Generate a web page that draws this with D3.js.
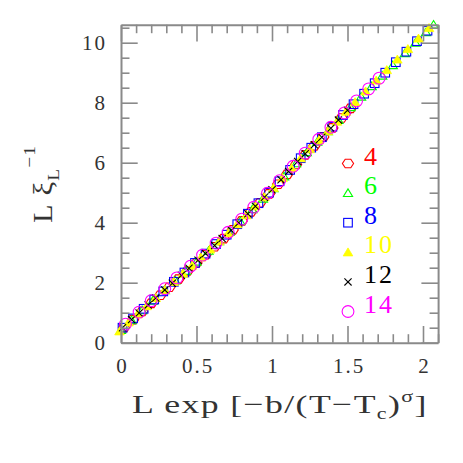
<!DOCTYPE html>
<html><head><meta charset="utf-8">
<script src="https://cdn.jsdelivr.net/npm/d3@7"></script>
<style>
body{margin:0;background:#fff;}
text{font-family:"Liberation Serif","DejaVu Serif",serif;}
</style></head>
<body><svg id="c" width="463" height="463"></svg>
<script>
// ---- data ----
const seriesNames = ["4","6","8","10","12","14"];
const x4  = [0.02,0.08,0.14,0.20,0.26,0.32,0.38,0.44,0.50,0.56,0.62,0.68,0.74,0.80,0.86,0.92,0.98,1.04,1.10,1.16,1.22,1.28,1.34,1.40,1.46,1.52];
const y4  = [0.50,0.77,1.04,1.31,1.58,1.85,2.12,2.39,2.66,2.93,3.20,3.47,3.76,4.06,4.36,4.66,4.96,5.28,5.61,5.94,6.26,6.56,6.86,7.16,7.49,7.81];
const x6  = [0.00,0.07,0.14,0.21,0.29,0.36,0.43,0.50,0.58,0.65,0.72,0.79,0.87,0.94,1.01,1.08,1.16,1.23,1.30,1.37,1.44,1.52,1.59,1.66,1.73,1.80,1.88,1.95,2.02,2.07];
const y6  = [0.42,0.75,1.08,1.40,1.75,2.07,2.39,2.70,3.06,3.38,3.70,4.05,4.45,4.80,5.15,5.54,5.98,6.35,6.70,7.05,7.42,7.85,8.20,8.55,8.90,9.25,9.65,10.00,10.35,10.60];
const x8  = [0.01,0.08,0.15,0.22,0.28,0.35,0.42,0.49,0.56,0.63,0.70,0.77,0.84,0.91,0.98,1.05,1.12,1.19,1.26,1.33,1.40,1.47,1.54,1.61,1.68,1.75,1.82,1.89,1.96,2.03];
const y8  = [0.50,0.81,1.13,1.44,1.71,2.03,2.34,2.66,2.97,3.29,3.60,3.95,4.30,4.65,5.00,5.38,5.76,6.15,6.50,6.85,7.20,7.59,7.95,8.30,8.65,9.00,9.35,9.70,10.05,10.40];
const x10 = [-0.01,0.05,0.11,0.17,0.23,0.29,0.35,0.41,0.47,0.53,0.59,0.65,0.71,0.77,0.83,0.89,0.95,1.01,1.07,1.13,1.19,1.25,1.31,1.37,1.43,1.49,1.55,1.62,1.69,1.76,1.83,1.90,1.97,2.04];
const y10 = [0.38,0.68,0.95,1.22,1.49,1.76,2.03,2.30,2.57,2.84,3.11,3.38,3.65,3.95,4.25,4.55,4.85,5.16,5.49,5.82,6.15,6.45,6.75,7.05,7.37,7.70,8.02,8.38,8.74,9.09,9.44,9.79,10.14,10.49];
const x12 = [0.01,0.07,0.12,0.18,0.23,0.29,0.34,0.40,0.45,0.51,0.56,0.62,0.67,0.73,0.78,0.84,0.89,0.95,1.00,1.06,1.11,1.17,1.22,1.28,1.33,1.39,1.44,1.50];
const y12 = [0.50,0.77,0.99,1.26,1.49,1.76,1.98,2.25,2.48,2.75,2.97,3.24,3.47,3.75,4.00,4.30,4.55,4.85,5.10,5.43,5.71,6.04,6.30,6.60,6.85,7.15,7.42,7.75];
const x14 = [0.03,0.12,0.20,0.29,0.37,0.46,0.54,0.63,0.71,0.80,0.88,0.97,1.05,1.14,1.22,1.31,1.39,1.48,1.56,1.64,1.71];
const y14 = [0.62,1.02,1.40,1.80,2.16,2.55,2.92,3.32,3.68,4.12,4.52,4.98,5.40,5.88,6.32,6.78,7.18,7.66,8.06,8.46,8.82];
const xMajorTicks = [0,0.5,1,1.5,2];
const yMajorTicks = [0,2,4,6,8,10];
const xMinorTicks = [0.1,0.2,0.3,0.4,0.6,0.7,0.8,0.9,1.1,1.2,1.3,1.4,1.6,1.7,1.8,1.9,2.1];
const yMinorTicks = [0.5,1,1.5,2.5,3,3.5,4.5,5,5.5,6.5,7,7.5,8.5,9,9.5,10.5];

const seriesX = [x4,x6,x8,x10,x12,x14];
const seriesY = [y4,y6,y8,y10,y12,y14];
const colors = ["#ff0000","#00ff00","#0000ff","#ffff00","#000000","#ff00ff"];
const shapes = ["hex","tri","sq","ftri","x","circ"];

const svg = d3.select("#c");
const L=121, R=438.1, T=24.7, B=342.7;
const xs = d3.scaleLinear().domain([0,2.1]).range([L,R]);
const ys = d3.scaleLinear().domain([0,10.6]).range([B,T]);
const axisCol = "#8a8a8a";

function marker(g, shape, col){
  if(shape==="hex"){
    const r=5.6, pts=d3.range(6).map(i=>[r*Math.cos(i*Math.PI/3), 0.88*r*Math.sin(i*Math.PI/3)]);
    g.append("path").attr("d","M"+pts.join("L")+"Z").attr("fill","none").attr("stroke",col).attr("stroke-width",1.1);
  } else if(shape==="tri"){
    g.append("path").attr("d","M-4.6,3.4L4.6,3.4L0,-4.2Z").attr("fill","none").attr("stroke",col).attr("stroke-width",1.1);
  } else if(shape==="ftri"){
    g.append("path").attr("d","M-4.8,3.6L4.8,3.6L0,-4.4Z").attr("fill",col).attr("stroke",col).attr("stroke-width",0.8);
  } else if(shape==="sq"){
    g.append("rect").attr("x",-4.3).attr("y",-4.3).attr("width",8.6).attr("height",8.6).attr("fill","none").attr("stroke",col).attr("stroke-width",1.1);
  } else if(shape==="x"){
    g.append("path").attr("d","M-3.6,-3.6L3.6,3.6M-3.6,3.6L3.6,-3.6").attr("stroke",col).attr("stroke-width",1.1);
  } else {
    g.append("circle").attr("r",5.9).attr("fill","none").attr("stroke",col).attr("stroke-width",1.1);
  }
}

// data points
seriesX.forEach((xa,si)=>{
  const g = svg.append("g");
  xa.forEach((xv,i)=>{
    const m = g.append("g").attr("transform",`translate(${xs(xv)},${ys(seriesY[si][i])})`);
    marker(m, shapes[si], colors[si]);
  });
});

// axes
function styleAxis(sel){
  sel.selectAll("path,line").attr("stroke",axisCol);
  sel.select(".domain").attr("stroke-width",2);
  sel.selectAll(".tick line").attr("stroke-width",1.6);
  sel.selectAll("text").attr("fill","#333").style("font-size","21px").style("letter-spacing","2px")
    .style("font-family","'Liberation Serif',serif");
}
const fmt = d=>String(d);
const xb = svg.append("g").attr("transform",`translate(0,${B})`).call(d3.axisBottom(xs).tickValues(xMajorTicks).tickFormat(fmt).tickSize(-16.7).tickSizeOuter(0).tickPadding(15));
styleAxis(xb);
xb.selectAll("text").attr("dx","1px");
styleAxis(svg.append("g").attr("transform",`translate(0,${T})`).call(d3.axisTop(xs).tickValues(xMajorTicks).tickFormat("").tickSize(-16.7).tickSizeOuter(0)));
styleAxis(svg.append("g").attr("transform",`translate(${L},0)`).call(d3.axisLeft(ys).tickValues(yMajorTicks).tickFormat(fmt).tickSize(-16.7).tickSizeOuter(0).tickPadding(14)));
styleAxis(svg.append("g").attr("transform",`translate(${R},0)`).call(d3.axisRight(ys).tickValues(yMajorTicks).tickFormat("").tickSize(-16.7).tickSizeOuter(0)));
[[d3.axisBottom(xs).tickValues(xMinorTicks),`translate(0,${B})`],
 [d3.axisTop(xs).tickValues(xMinorTicks),`translate(0,${T})`],
 [d3.axisLeft(ys).tickValues(yMinorTicks),`translate(${L},0)`],
 [d3.axisRight(ys).tickValues(yMinorTicks),`translate(${R},0)`]].forEach(([ax,tr])=>{
  const g = svg.append("g").attr("transform",tr).call(ax.tickFormat("").tickSize(-8.5).tickSizeOuter(0));
  g.select(".domain").remove();
  g.selectAll("line").attr("stroke",axisCol).attr("stroke-width",1.6);
});

// legend
const legY0 = 163.5, legDy = 29.6;
seriesNames.forEach((nm,i)=>{
  const cy = legY0 + i*legDy;
  const m = svg.append("g").attr("transform",`translate(348,${cy})`);
  marker(m, shapes[i], colors[i]);
  svg.append("text").attr("x",364).attr("y",cy+1).attr("fill",colors[i])
    .style("font-size","26px").style("letter-spacing","2px").text(nm);
});

// x title (stretched horizontally to the reference width)
const xt = svg.append("text").attr("text-anchor","start")
  .attr("fill","#333").style("font-size","26px").style("letter-spacing","1px");
xt.append("tspan").text("L exp [−b/(T−T");
xt.append("tspan").attr("dy",6).style("font-size","16px").text("c");
xt.append("tspan").attr("dy",-6).text(")");
xt.append("tspan").attr("dy",-11).style("font-size","16px").text("σ");
xt.append("tspan").attr("dy",11).text("]");
{
  const w = xt.node().getComputedTextLength();
  xt.attr("transform",`translate(132,413) scale(${296/w},1)`);
}

// y title
const yt = svg.append("text").attr("text-anchor","start")
  .attr("fill","#333").style("font-size","27px").style("letter-spacing","1px");
yt.append("tspan").text("L ξ");
yt.append("tspan").attr("dy",7).style("font-size","17px").text("L");
yt.append("tspan").attr("dy",-24).style("font-size","17px").text("−1");
{
  const w = yt.node().getComputedTextLength();
  yt.attr("transform",`translate(52,223) rotate(-90) scale(${78/w},1)`);
}
</script></body></html>
